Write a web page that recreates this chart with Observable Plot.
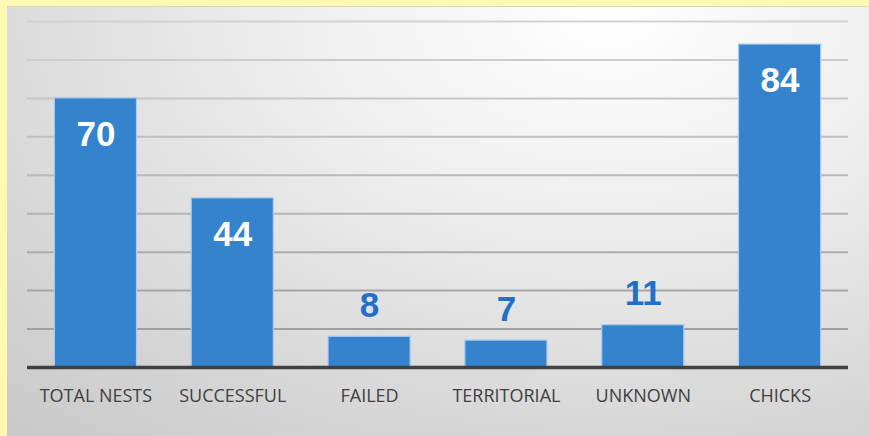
<!DOCTYPE html>
<html>
<head>
<meta charset="utf-8">
<script src="https://cdn.jsdelivr.net/npm/d3@7"></script>
<script src="https://cdn.jsdelivr.net/npm/@observablehq/plot@0.6"></script>
<style>
  html, body { margin: 0; padding: 0; }
  body { width: 869px; height: 436px; background: #fff9b3; position: relative; overflow: hidden; }
  #panel {
    position: absolute; left: 7px; top: 6px; width: 862px; height: 430px;
    background: radial-gradient(ellipse 900px 560px at 600px 10px, #ffffff 0%, #eeeeee 35%, #d6d6d6 75%, #c9c9c9 100%);
    border-top: 1px solid #d8d8b0;
    box-sizing: border-box;
  }
  #chart { position: absolute; left: 0; top: 0; }
</style>
</head>
<body>
<div id="panel"></div>
<div id="chart"></div>
<script>
const categories = ["TOTAL NESTS", "SUCCESSFUL", "FAILED", "TERRITORIAL", "UNKNOWN", "CHICKS"];
const values = [70, 44, 8, 7, 11, 84];
const gridTicks = [10, 20, 30, 40, 50, 60, 70, 80, 90];

const data = categories.map((c, i) => ({cat: c, value: values[i]}));
const inside = data.filter(d => d.value >= 30);
const outside = data.filter(d => d.value < 30);

const barBlue = "#3582cd";

const chart = Plot.plot({
  width: 869,
  height: 436,
  marginLeft: 27,
  marginRight: 21,
  marginTop: 21,
  marginBottom: 69,
  style: {background: "transparent", overflow: "visible"},
  x: {domain: categories, paddingInner: 0.4, paddingOuter: 0.2, round: false, label: null},
  y: {domain: [0, 90], axis: null},
  marks: [
    Plot.ruleY(gridTicks, {stroke: d => d3.interpolateRgb("#d2d2d2", "#9a9a9a")(1 - d / 90), strokeWidth: 2}),
    Plot.barY(data, {x: "cat", y: "value", fill: barBlue, stroke: "#a9cbee", strokeWidth: 1.2}),
    Plot.ruleY([0], {stroke: "#404040", strokeWidth: 3.5}),
    Plot.text(inside, {x: "cat", y: "value", text: d => String(d.value), fill: "white", dy: 36, fontSize: 35, fontWeight: "bold", fontFamily: "Liberation Sans, Arial, sans-serif"}),
    Plot.text(outside, {x: "cat", y: "value", text: d => String(d.value), fill: "#1f70c6", dy: -31, fontSize: 35, fontWeight: "bold", fontFamily: "Liberation Sans, Arial, sans-serif"}),
    Plot.axisX({tickSize: 0, tickPadding: 22, fontSize: 18, fill: "#404040", fontFamily: "Open Sans, sans-serif", label: null})
  ]
});
document.getElementById("chart").appendChild(chart);
</script>
</body>
</html>
